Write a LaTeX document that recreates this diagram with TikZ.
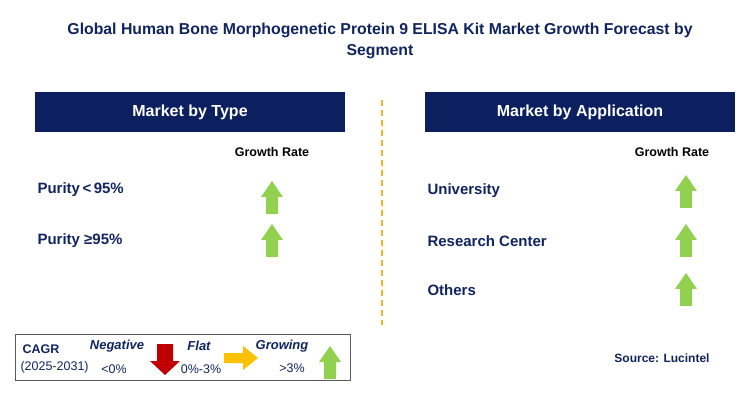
\documentclass[tikz,border=0pt]{standalone}
\usepackage{fontspec}
\setmainfont{Liberation Sans}
\usetikzlibrary{positioning}
\definecolor{navyfill}{RGB}{12,31,94}
\definecolor{navytext}{RGB}{16,36,96}
\definecolor{upgreen}{RGB}{146,208,80}
\definecolor{downred}{RGB}{192,0,0}
\definecolor{flatamber}{RGB}{255,192,0}
\definecolor{splitorange}{RGB}{245,176,40}

\begin{document}
\begin{tikzpicture}[
    x=1pt, y=-1pt,
    header/.style={rectangle, fill=navyfill, minimum width=310pt, minimum height=40pt, font=\bfseries\fontsize{16}{18}\selectfont, text=white},
    item/.style={anchor=west, font=\bfseries\fontsize{15}{17}\selectfont, text=navytext},
    rate/.style={font=\bfseries\fontsize{12.5}{14}\selectfont},
    legend/.style={font=\fontsize{12.5}{14}\selectfont, text=navytext},
    legendhead/.style={font=\bfseries\itshape\fontsize{13}{15}\selectfont, text=navytext},
    uparrow/.pic={\fill[upgreen] (-11,0) -- (0,-16) -- (11,0) -- (6,0) -- (6,17) -- (-6,17) -- (-6,0) -- cycle;}
]
\useasboundingbox (0,0) rectangle (749,411);

% Title
\node[font=\bfseries\fontsize{15.8}{21}\selectfont, text=navytext, align=center] (title) at (380,41)
    {Global Human Bone Morphogenetic Protein 9 ELISA Kit Market Growth Forecast by\\Segment};

% Headers and split line
\node[header] (type) at (190,112) {Market by Type};
\node[header] (app) at (580,112) {Market by Application};
\draw[splitorange, line width=1.2pt, dash pattern=on 6pt off 4pt] (382,100) -- (382,325);

% Market by Type
\node[rate] (rateL) at (272,152) {Growth Rate};
\node[item] (t1) at (34,190) {Purity\,<\,95\%};
\node[item] (t2) at (34,241) {Purity ≥95\%};
\pic at (272,197) {uparrow};
\pic at (272,240) {uparrow};

% Market by Application
\node[rate] (rateR) at (672,152) {Growth Rate};
\node[item] (a1) at (424,191) {University};
\node[item] (a2) at (424,241) {Research Center};
\node[item] (a3) at (424,290) {Others};
\pic at (686,191) {uparrow};
\pic at (686,240) {uparrow};
\pic at (686,289) {uparrow};

% Legend
\draw[gray!70!black, line width=0.8pt] (15,334) rectangle (350,380);
\node[font=\bfseries\fontsize{12.5}{14}\selectfont, text=navytext, anchor=west] (cagr) at (19,349) {CAGR};
\node[legend, anchor=west] (years) at (17,367) {(2025-2031)};
\node[legendhead] (neg) at (117,346) {Negative};
\node[legend] (negv) at (114,369) {<0\%};
\fill[downred] (157,344) -- (157,361) -- (150,361) -- (165,375) -- (180,361) -- (173,361) -- (173,344) -- cycle;
\node[legendhead] (flat) at (199,346) {Flat};
\node[legend] (flatv) at (201,369) {0\%-3\%};
\fill[flatamber] (224,353) -- (243,353) -- (243,346) -- (258,358) -- (243,370) -- (243,363) -- (224,363) -- cycle;
\node[legendhead] (grow) at (282,346) {Growing};
\node[legend] (growv) at (292,368) {>3\%};
\pic at (330,362) {uparrow};

% Source
\node[font=\bfseries\fontsize{12}{14}\selectfont, text=navytext] (src) at (662,358) {Source: Lucintel};
\end{tikzpicture}
\end{document}
